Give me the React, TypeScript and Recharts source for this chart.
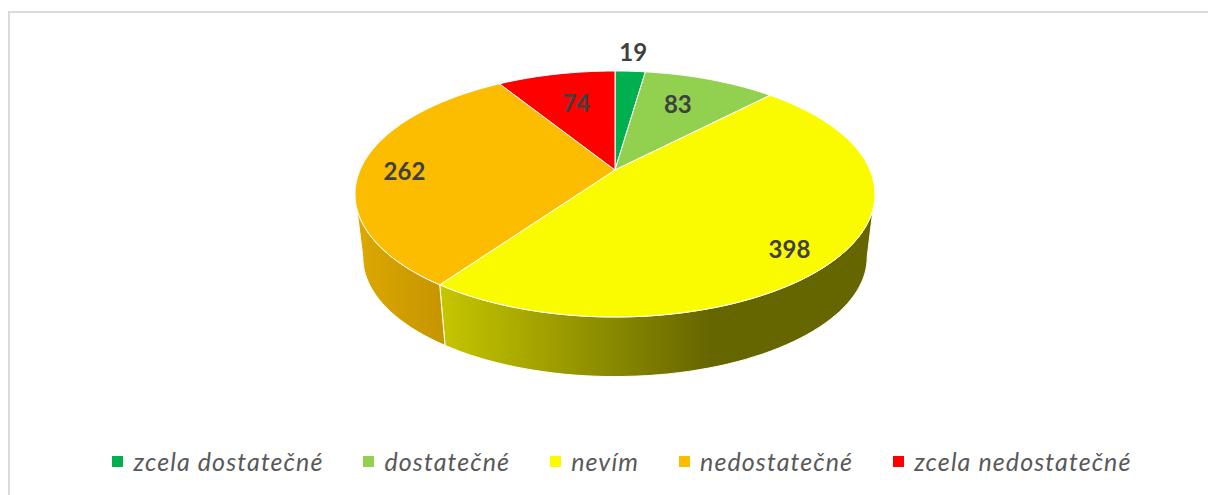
import { PieChart, Pie, Legend } from 'recharts';

const categories = ['zcela dostatečné', 'dostatečné', 'nevím', 'nedostatečné', 'zcela nedostatečné'];
const values = [19, 83, 398, 262, 74];
const topColors = ['#00B050', '#92D050', '#FBFB00', '#FCBC00', '#FF0000'];
const wallColors = ['#007030', '#5C8A2A', 'url(#wallYellow)', 'url(#wallOrange)', '#A00000'];

// label placement: radius as a share of the pie, plus a small nudge in px
const labelRadius = [1.25, 0.7, 0.8, 0.83, 0.67];
const labelNudge = [[0, 0], [-7, 0], [0, 11], [0, 3], [3, 0]];

const tableTop = categories.map((name, i) => ({ name, value: values[i], fill: topColors[i] }));
const tableWall = categories.map((name, i) => ({ name, value: values[i], fill: wallColors[i] }));

const CX = 615;
const CY = 170;
const R = 255;
const TILT = 0.195; // perspective: far edge shrinks, near edge grows
const SQUASH = 0.464;
const DEPTH = 64;
const BOTTOM_SCALE = 0.97;

// polar angle on the pie -> picture point, with a fake 3D perspective
function project(cx: number, cy: number, r: number, angle: number, frac = 1, bottom = false) {
  const t = (angle * Math.PI) / 180;
  const u = Math.cos(t) * frac;
  const v = Math.sin(t) * frac;
  const w = 1 + TILT * v;
  const s = bottom ? BOTTOM_SCALE : 1;
  return {
    x: cx + (r * s * u) / w,
    y: cy + (bottom ? DEPTH : 0) - (r * SQUASH * s * v) / w,
  };
}

function arcPoints(p: any, from: number, to: number, bottom = false) {
  const pts = [];
  const n = Math.max(2, Math.ceil(Math.abs(to - from) / 2));
  for (let i = 0; i <= n; i++) {
    const a = from + ((to - from) * i) / n;
    const q = project(p.cx, p.cy, p.outerRadius, a, 1, bottom);
    pts.push(`${q.x.toFixed(1)} ${q.y.toFixed(1)}`);
  }
  return pts;
}

function TopSlice(p: any) {
  const pts = arcPoints(p, p.startAngle, p.endAngle);
  return <path d={`M${p.cx} ${p.cy}L${pts.join('L')}Z`} fill={p.fill} stroke="#fff" strokeWidth={1} />;
}

function WallSlice(p: any) {
  // only the front of the rim shows: stop at the widest points of the ellipse
  const from = Math.min(p.startAngle, -11);
  const to = Math.max(p.endAngle, -169);
  if (from <= to) return <g />;
  const top = arcPoints(p, from, to);
  const bottom = arcPoints(p, to, from, true);
  return <path d={`M${top.join('L')}L${bottom.join('L')}Z`} fill={p.fill} stroke="#fff" strokeWidth={1} />;
}

function renderLabel(p: any) {
  const q = project(p.cx, p.cy, p.outerRadius, p.midAngle, labelRadius[p.index]);
  const [dx, dy] = labelNudge[p.index];
  return (
    <text
      x={q.x + dx}
      y={q.y + dy}
      textAnchor="middle"
      dominantBaseline="central"
      fill="#404040"
      fontFamily="Lato"
      fontWeight={700}
      fontSize={24}
    >
      {p.value}
    </text>
  );
}

function LegendRow({ payload }: any) {
  const items = (payload || []).filter((item: any) => item.type !== 'none');
  return (
    <div style={{ display: 'flex', justifyContent: 'center', alignItems: 'center', whiteSpace: 'nowrap', fontFamily: 'Lato', fontStyle: 'italic', fontSize: 25, color: '#595959', letterSpacing: 1.1 }}>
      {items.map((item: any, i: number) => (
        <div key={item.value} style={{ display: 'flex', alignItems: 'center', marginRight: i < items.length - 1 ? 40 : 0 }}>
          <span style={{ width: 11, height: 11, background: item.color, marginRight: 10 }} />
          <span>{item.value}</span>
        </div>
      ))}
    </div>
  );
}

export default function App() {
  return (
    <div style={{ position: 'absolute', left: 0, top: 0, width: 1208, height: 495, background: '#fff', overflow: 'hidden' }}>
      <div style={{ position: 'absolute', left: 8, top: 11, width: 1200, height: 484, borderTop: '2px solid #D9D9D9', borderLeft: '2px solid #D9D9D9' }} />
      <PieChart width={1208} height={495} margin={{ top: 0, left: 0, right: 0, bottom: 0 }} style={{ position: 'absolute', left: 0, top: 0 }}>
        <defs>
          <linearGradient id="wallYellow" x1="0" y1="0" x2="1" y2="0">
            <stop offset="0" stopColor="#C6C600" />
            <stop offset="0.62" stopColor="#666600" />
            <stop offset="1" stopColor="#666600" />
          </linearGradient>
          <linearGradient id="wallOrange" x1="0" y1="0" x2="1" y2="0">
            <stop offset="0" stopColor="#DDA800" />
            <stop offset="1" stopColor="#C69500" />
          </linearGradient>
        </defs>
        <Pie
          data={tableWall}
          dataKey="value"
          nameKey="name"
          cx={CX}
          cy={CY}
          outerRadius={R}
          startAngle={90}
          endAngle={-270}
          legendType="none"
          shape={WallSlice}
          stroke="none"
          isAnimationActive={false}
        />
        <Pie
          data={tableTop}
          dataKey="value"
          nameKey="name"
          cx={CX}
          cy={CY}
          outerRadius={R}
          startAngle={90}
          endAngle={-270}
          shape={TopSlice}
          label={renderLabel}
          labelLine={false}
          isAnimationActive={false}
        />
        <Legend content={LegendRow} itemSorter={null} wrapperStyle={{ left: 18, width: 1208, top: 446 }} />
      </PieChart>
    </div>
  );
}
